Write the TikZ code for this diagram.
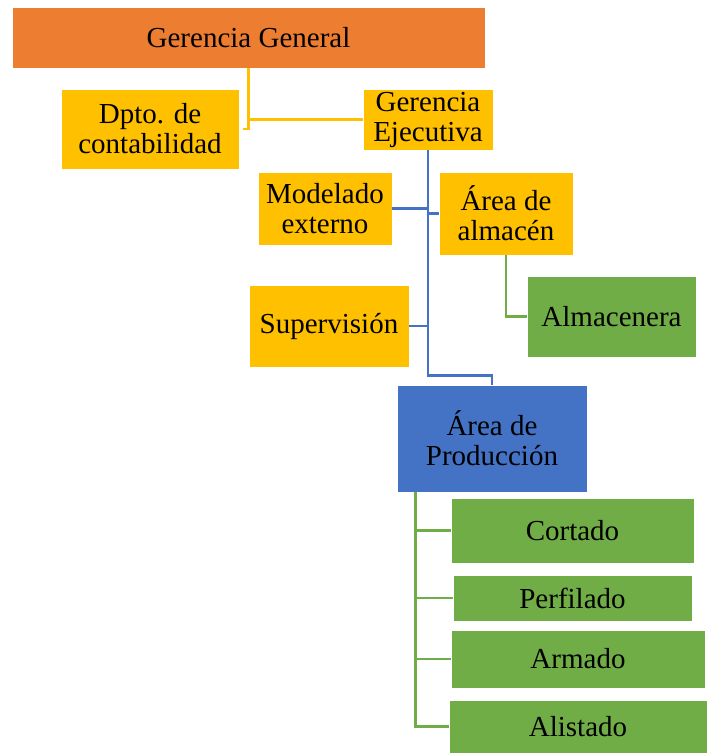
\documentclass[tikz,border=0pt]{standalone}
\usepackage{fontspec}
\setmainfont{Liberation Serif}
\usetikzlibrary{calc}
\definecolor{cOrange}{HTML}{ED7D31}
\definecolor{cYellow}{HTML}{FFC000}
\definecolor{cBlue}{HTML}{4472C4}
\definecolor{cGreen}{HTML}{70AD47}
\tikzset{
  orgbox/.style={rectangle, draw=white, line width=0.8pt, inner sep=0pt, align=center,
    font=\fontsize{29}{30}\selectfont, text=black},
  ylink/.style={draw=cYellow, line width=2.2pt},
  blink/.style={draw=cBlue, line width=2.4pt},
  glink/.style={draw=cGreen, line width=2.4pt},
}
\newcommand{\orgnode}[7]{% name, color, cx, cy, w, h, text
  \node[orgbox, fill=#2, minimum width=#5pt, minimum height=#6pt] (#1) at (#3,#4) {#7};}
\begin{document}
\begin{tikzpicture}[x=1pt,y=-1pt]
\useasboundingbox (0,0) rectangle (708,753);
\orgnode{gg}{cOrange}{248.5}{37.5}{473}{61}{Gerencia General}
\orgnode{dpto}{cYellow}{150}{129}{178}{80}{Dpto. de\\contabilidad}
\orgnode{gej}{cYellow}{428}{119.5}{130}{61}{Gerencia\\Ejecutiva}
\orgnode{mod}{cYellow}{325}{208.5}{134}{73}{Modelado\\externo}
\orgnode{alm}{cYellow}{506}{213.5}{134}{83}{Área de\\almacén}
\orgnode{almc}{cGreen}{611.5}{316.5}{169}{81}{Almacenera}
\orgnode{sup}{cYellow}{329}{326}{160}{82}{Supervisión}
\orgnode{prod}{cBlue}{492}{438.5}{190}{107}{Área de\\Producción}
\orgnode{cort}{cGreen}{572.5}{530.5}{243}{65}{Cortado}
\orgnode{perf}{cGreen}{572.5}{598}{239}{46}{Perfilado}
\orgnode{arm}{cGreen}{578}{659}{254}{58}{Armado}
\orgnode{alis}{cGreen}{578}{726.5}{258}{53}{Alistado}
% yellow connectors
\draw[ylink] (gg.south) |- (gej.west);
\draw[ylink] (gg.south) |- ($(dpto.east)+(4,0)$);
% blue connectors
\coordinate (bjoin) at ($(gej.south)+(0,225)$);
\draw[blink] (gej.south) -- (bjoin) -| (prod.north);
\draw[blink] (mod.east) -- (mod.east -| gej.south);
\draw[blink] (alm.west) -- (alm.west -| gej.south);
\draw[blink] (sup.east) -- (sup.east -| gej.south);
% green connectors
\draw[glink] (alm.south) |- (almc.west);
\coordinate (pb) at ($(prod.south west)+(19,0)$);
\draw[glink] (pb) |- (alis.west);
\draw[glink] (pb |- cort.west) -- (cort.west);
\draw[glink] (pb |- perf.west) -- (perf.west);
\draw[glink] (pb |- arm.west) -- (arm.west);
\end{tikzpicture}
\end{document}
